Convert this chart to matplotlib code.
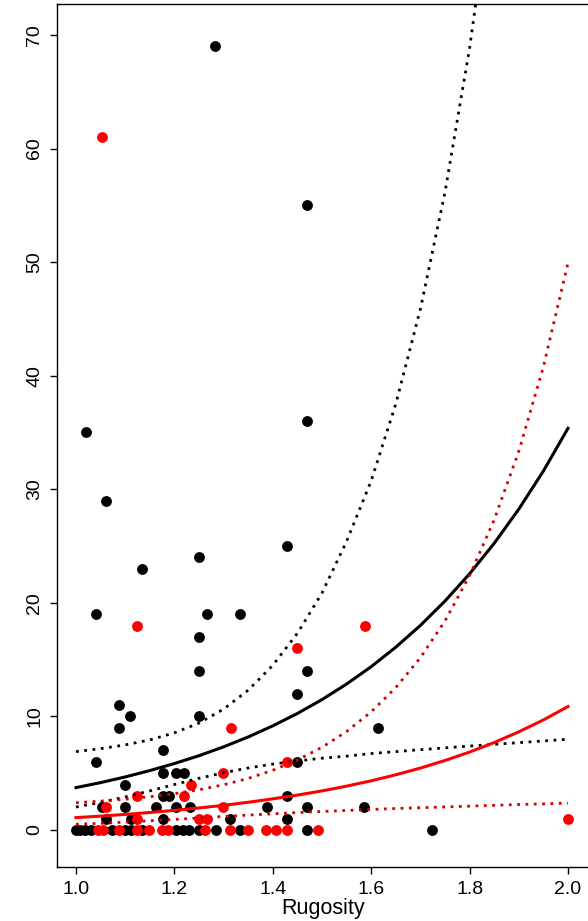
import numpy as np
import matplotlib.pyplot as plt

plt.rcParams['font.family'] = ['Liberation Sans', 'DejaVu Sans']

# observed counts vs rugosity, black group
black_x = [1.283, 1.469, 1.469, 1.020, 1.062, 1.428, 1.250, 1.135, 1.040, 1.266,
           1.333, 1.250, 1.250, 1.469, 1.449, 1.087, 1.110, 1.250, 1.087, 1.613,
           1.177, 1.040, 1.449, 1.177, 1.204, 1.220, 1.100, 1.177, 1.190, 1.428,
           1.052, 1.100, 1.163, 1.204, 1.232, 1.388, 1.469, 1.586, 1.062, 1.111,
           1.177, 1.314, 1.428,
           1.000, 1.008, 1.019, 1.031, 1.073, 1.100, 1.111, 1.135, 1.204, 1.217,
           1.230, 1.249, 1.284, 1.333, 1.469, 1.724]
black_y = [69, 55, 36, 35, 29, 25, 24, 23, 19, 19,
           19, 17, 14, 14, 12, 11, 10, 10, 9, 9,
           7, 6, 6, 5, 5, 5, 4, 3, 3, 3,
           2, 2, 2, 2, 2, 2, 2, 2, 1, 1,
           1, 1, 1,
           0, 0, 0, 0, 0, 0, 0, 0, 0, 0,
           0, 0, 0, 0, 0, 0]

# red group
red_x = [1.052, 1.123, 1.449, 1.587, 1.315, 1.298, 1.428, 1.233, 1.123, 1.219,
         1.062, 1.298, 1.123, 1.249, 1.266, 1.999,
         1.044, 1.055, 1.087, 1.124, 1.148, 1.175, 1.186, 1.263, 1.314, 1.349,
         1.387, 1.407, 1.429, 1.492]
red_y = [61, 18, 16, 18, 9, 5, 6, 4, 3, 3,
         2, 2, 1, 1, 1, 1,
         0, 0, 0, 0, 0, 0, 0, 0, 0, 0,
         0, 0, 0, 0]

# fitted curves with confidence bands
curve_x = [1.00, 1.05, 1.10, 1.15, 1.20, 1.25, 1.30, 1.35, 1.40, 1.45, 1.50,
           1.55, 1.60, 1.65, 1.70, 1.75, 1.80, 1.85, 1.90, 1.95, 2.00]
black_fit = [3.73, 4.17, 4.67, 5.23, 5.85, 6.54, 7.32, 8.19, 9.17, 10.26, 11.48,
             12.85, 14.38, 16.10, 18.01, 20.16, 22.56, 25.24, 28.25, 31.61, 35.37]
black_upper = [6.90, 7.16, 7.49, 7.93, 8.55, 9.41, 10.64, 12.31, 14.50, 17.32, 20.86,
               25.42, 30.75, 37.52, 45.87, 56.16, 68.85, 84.50]
black_lower = [2.02, 2.43, 2.91, 3.44, 4.00, 4.55, 5.04, 5.46, 5.80, 6.08, 6.32,
               6.50, 6.73, 6.90, 7.07, 7.23, 7.39, 7.54, 7.69, 7.84, 7.99]
red_fit = [1.09, 1.22, 1.37, 1.54, 1.73, 1.94, 2.17, 2.44, 2.74, 3.07, 3.44,
           3.86, 4.33, 4.86, 5.45, 6.12, 6.86, 7.70, 8.64, 9.69, 10.87]
red_upper = [2.40, 2.54, 2.71, 2.93, 3.20, 3.54, 3.98, 4.54, 5.26, 6.16, 7.28,
             8.67, 10.40, 12.54, 15.17, 18.41, 22.40, 27.31, 33.35, 40.79, 49.93]
red_lower = [0.50, 0.59, 0.69, 0.81, 0.93, 1.06, 1.19, 1.31, 1.42, 1.53, 1.63,
             1.72, 1.81, 1.89, 1.96, 2.03, 2.10, 2.17, 2.24, 2.30, 2.37]

x_ticks = [1.0, 1.2, 1.4, 1.6, 1.8, 2.0]
y_ticks = [0, 10, 20, 30, 40, 50, 60, 70]

fig = plt.figure(figsize=(5.88, 9.21), dpi=100)
ax = fig.add_axes([57 / 588, 1 - 867 / 921, 533 / 588, 863 / 921])

ax.plot(black_x, black_y, 'o', color='black', ms=7.8, mew=0, zorder=2)
ax.plot(red_x, red_y, 'o', color='red', ms=7.8, mew=0, zorder=2)

dot = (0, (1, 2))
ax.plot(curve_x, black_fit, color='black', lw=2.2, zorder=3)
ax.plot(curve_x[:len(black_upper)], black_upper, color='black', lw=2, ls=dot, zorder=3)
ax.plot(curve_x, black_lower, color='black', lw=2, ls=dot, zorder=3)
ax.plot(curve_x, red_fit, color='red', lw=2.2, zorder=3)
ax.plot(curve_x, red_upper, color='#d00000', lw=2, ls=dot, zorder=3)
ax.plot(curve_x, red_lower, color='#d00000', lw=2, ls=dot, zorder=3)

ax.set_xlim(0.9614, 2.0447)
ax.set_ylim(-3.26, 72.73)
ax.set_xticks(x_ticks)
ax.set_xticklabels(['1.0', '1.2', '1.4', '1.6', '1.8', '2.0'])
ax.set_yticks(y_ticks)
ax.set_yticklabels([str(v) for v in y_ticks], rotation=90, va='center')
ax.tick_params(axis='both', labelsize=14, length=5, width=1, pad=5, colors='black')
ax.set_xlabel('Rugosity', fontsize=15.5, labelpad=0)
for s in ax.spines.values():
    s.set_linewidth(1)

fig.savefig('out.png', dpi=100)
